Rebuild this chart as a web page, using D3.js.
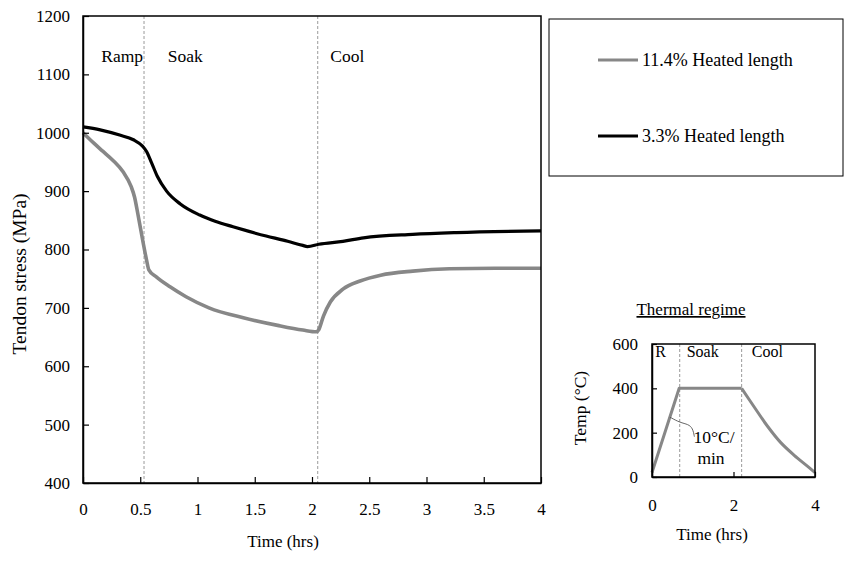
<!DOCTYPE html>
<html>
<head>
<meta charset="utf-8">
<script src="https://cdn.jsdelivr.net/npm/d3@7"></script>
<style>
  html, body { margin: 0; padding: 0; background: #fff; }
  svg { display: block; font-family: "Liberation Serif", "Times New Roman", serif; }
</style>
</head>
<body>
<svg id="chart" width="850" height="562"></svg>
<script>
// ---- Tendon stress during heating (main chart) ----
const timeTicks = [0, 0.5, 1, 1.5, 2, 2.5, 3, 3.5, 4];
const stressTicks = [400, 500, 600, 700, 800, 900, 1000, 1100, 1200];

// 11.4% heated length
const heated114Time   = [0, 0.09, 0.175, 0.26, 0.35, 0.42, 0.45, 0.48, 0.525, 0.555, 0.575, 0.64, 0.76, 0.9, 1.1, 1.4, 1.7, 1.92, 2.04, 2.06, 2.1, 2.16, 2.27, 2.42, 2.6, 2.88, 3.2, 3.6, 4.0];
const heated114Stress = [1000, 983, 968, 953, 933, 908, 890, 860, 812, 782, 765, 753, 736, 719, 700, 683, 670, 662, 659, 663, 686, 710, 732, 746, 756, 763, 767, 768, 768];

// 3.3% heated length
const heated33Time   = [0, 0.15, 0.32, 0.44, 0.52, 0.555, 0.6, 0.65, 0.73, 0.85, 1.02, 1.16, 1.31, 1.45, 1.6, 1.75, 1.92, 1.96, 2.06, 2.27, 2.45, 2.88, 3.26, 4.0];
const heated33Stress = [1010, 1005, 996, 988, 977, 968, 948, 925, 900, 878, 859, 848, 839, 831, 823, 816, 807, 805, 809, 814, 820, 826, 829, 832];

// Phase boundaries (hrs) and labels
const phaseBounds = [0.533, 2.05];
const phaseLabels = ["Ramp", "Soak", "Cool"];
const phaseLabelTime = [0.16, 0.74, 2.16];

const seriesNames = ["11.4% Heated length", "3.3% Heated length"];
const seriesColors = ["#878787", "#000000"];

// ---- Thermal regime (inset) ----
const regimeTime = [0, 0.667, 2.2, 2.5, 2.83, 3.16, 3.49, 3.82, 4.0];
const regimeTemp = [20, 400, 400, 318, 230, 155, 98, 48, 20];
const regimeTimeTicks = [0, 2, 4];
const regimeTempTicks = [0, 200, 400, 600];
const regimeBounds = [0.68, 2.2];
const regimeLabels = ["R", "Soak", "Cool"];
const regimeLabelTime = [0.08, 0.85, 2.45];
// leader from the ramp to the rate note (time, temp)
const rateLeader = [[0.44, 270], [0.69, 245], [0.89, 238], [1.0, 220], [1.04, 182]];

const svg = d3.select("#chart");

// ============ main chart ============
const M = { left: 83, right: 541, top: 16, bottom: 483 };
const x = d3.scaleLinear().domain([0, 4]).range([M.left, M.right]);
const y = d3.scaleLinear().domain([400, 1200]).range([M.bottom, M.top]);

const main = svg.append("g");

// phase dividers
main.selectAll("line.phase").data(phaseBounds).join("line")
  .attr("x1", d => x(d)).attr("x2", d => x(d))
  .attr("y1", M.top).attr("y2", M.bottom + 3)
  .attr("stroke", "#9a9a9a").attr("stroke-width", 1)
  .attr("stroke-dasharray", "3,2");

main.selectAll("text.phase").data(phaseLabels).join("text")
  .attr("x", (d, i) => x(phaseLabelTime[i]))
  .attr("y", 62)
  .attr("font-size", 17.5)
  .text(d => d);

// series
const lineGen = d3.line()
  .x(d => x(d[0])).y(d => y(d[1]))
  .curve(d3.curveMonotoneX);

const series = [
  d3.zip(heated114Time, heated114Stress),
  d3.zip(heated33Time, heated33Stress)
];
main.selectAll("path.series").data(series).join("path")
  .attr("fill", "none")
  .attr("stroke", (d, i) => seriesColors[i])
  .attr("stroke-width", (d, i) => i === 0 ? 3.6 : 3.2)
  .attr("stroke-linejoin", "round")
  .attr("d", lineGen);

// frame
main.append("rect")
  .attr("x", M.left).attr("y", M.top)
  .attr("width", M.right - M.left).attr("height", M.bottom - M.top)
  .attr("fill", "none").attr("stroke", "#000").attr("stroke-width", 1.5);

// axes (ticks pointing inward)
const xAxis = main.append("g").attr("transform", `translate(0,${M.bottom})`)
  .call(d3.axisBottom(x).tickValues(timeTicks).tickFormat(d3.format("")).tickSizeInner(-6).tickSizeOuter(0).tickPadding(20));
const yAxis = main.append("g").attr("transform", `translate(${M.left},0)`)
  .call(d3.axisLeft(y).tickValues(stressTicks).tickFormat(d3.format("d")).tickSizeInner(-6).tickSizeOuter(0).tickPadding(13));
[xAxis, yAxis].forEach(g => {
  g.select(".domain").attr("stroke", "#000").attr("stroke-width", 1.5);
  g.selectAll(".tick line").attr("stroke", "#000").attr("stroke-width", 1.2);
  g.selectAll(".tick text").attr("font-family", "Liberation Serif, serif")
    .attr("font-size", 17).attr("fill", "#000");
});

main.append("text")
  .attr("x", 283).attr("y", 547)
  .attr("text-anchor", "middle").attr("font-size", 17)
  .text("Time (hrs)");

main.append("text")
  .attr("transform", "translate(26,274) rotate(-90)")
  .attr("text-anchor", "middle").attr("font-size", 19.5)
  .text("Tendon stress (MPa)");

// legend
const legend = svg.append("g");
legend.append("rect")
  .attr("x", 549).attr("y", 19).attr("width", 294).attr("height", 157)
  .attr("fill", "#fff").attr("stroke", "#000").attr("stroke-width", 1);
const legRows = legend.selectAll("g.row").data(seriesNames).join("g")
  .attr("transform", (d, i) => `translate(0,${i === 0 ? 60 : 136})`);
legRows.append("line")
  .attr("x1", 598).attr("x2", 638)
  .attr("stroke", (d, i) => seriesColors[i]).attr("stroke-width", 3);
legRows.append("text")
  .attr("x", 642).attr("y", 6)
  .attr("font-size", 18)
  .text(d => d);

// ============ inset: thermal regime ============
const I = { left: 652, right: 815, top: 344, bottom: 477 };
const xi = d3.scaleLinear().domain([0, 4]).range([I.left, I.right]);
const yi = d3.scaleLinear().domain([0, 600]).range([I.bottom, I.top]);
const inset = svg.append("g");

inset.append("text")
  .attr("x", 691).attr("y", 315)
  .attr("text-anchor", "middle").attr("font-size", 17)
  .attr("text-decoration", "underline")
  .text("Thermal regime");

inset.selectAll("line.phase").data(regimeBounds).join("line")
  .attr("x1", d => xi(d)).attr("x2", d => xi(d))
  .attr("y1", I.top).attr("y2", I.bottom)
  .attr("stroke", "#9a9a9a").attr("stroke-width", 1)
  .attr("stroke-dasharray", "3,2");

inset.selectAll("text.phase").data(regimeLabels).join("text")
  .attr("x", (d, i) => xi(regimeLabelTime[i]))
  .attr("y", 357)
  .attr("font-size", 16)
  .text(d => d);

const regimePts = d3.zip(regimeTime, regimeTemp);
const linI = d3.line().x(d => xi(d[0])).y(d => yi(d[1]));
// ramp and soak are straight; cooling is a smooth decay
inset.append("path")
  .attr("fill", "none").attr("stroke", "#878787").attr("stroke-width", 3)
  .attr("stroke-linejoin", "round")
  .attr("d", linI(regimePts.slice(0, 3)));
inset.append("path")
  .attr("fill", "none").attr("stroke", "#878787").attr("stroke-width", 3)
  .attr("stroke-linejoin", "round")
  .attr("d", d3.line().x(d => xi(d[0])).y(d => yi(d[1])).curve(d3.curveCatmullRom)(regimePts.slice(2)));

// rate note with curved leader
inset.append("path")
  .attr("fill", "none").attr("stroke", "#555").attr("stroke-width", 0.9)
  .attr("d", d3.line().x(d => xi(d[0])).y(d => yi(d[1])).curve(d3.curveBasis)(rateLeader));
inset.append("text")
  .attr("x", 714).attr("y", 443).attr("text-anchor", "middle")
  .attr("font-size", 17.5).text("10°C/");
inset.append("text")
  .attr("x", 711).attr("y", 464).attr("text-anchor", "middle")
  .attr("font-size", 17.5).text("min");

inset.append("rect")
  .attr("x", I.left).attr("y", I.top)
  .attr("width", I.right - I.left).attr("height", I.bottom - I.top)
  .attr("fill", "none").attr("stroke", "#000").attr("stroke-width", 1.5);

const xiAxis = inset.append("g").attr("transform", `translate(0,${I.bottom})`)
  .call(d3.axisBottom(xi).tickValues(regimeTimeTicks).tickFormat(d3.format("d")).tickSizeInner(-5).tickSizeOuter(0).tickPadding(22));
const yiAxis = inset.append("g").attr("transform", `translate(${I.left},0)`)
  .call(d3.axisLeft(yi).tickValues(regimeTempTicks).tickFormat(d3.format("d")).tickSizeInner(-5).tickSizeOuter(0).tickPadding(14));
[xiAxis, yiAxis].forEach(g => {
  g.select(".domain").attr("stroke", "#000").attr("stroke-width", 1.5);
  g.selectAll(".tick line").attr("stroke", "#000").attr("stroke-width", 1.2);
  g.selectAll(".tick text").attr("font-family", "Liberation Serif, serif")
    .attr("font-size", 17).attr("fill", "#000");
});

inset.append("text")
  .attr("x", 712).attr("y", 540)
  .attr("text-anchor", "middle").attr("font-size", 17)
  .text("Time (hrs)");
inset.append("text")
  .attr("transform", "translate(586,408) rotate(-90)")
  .attr("text-anchor", "middle").attr("font-size", 17.5)
  .text("Temp (°C)");
</script>
</body>
</html>
